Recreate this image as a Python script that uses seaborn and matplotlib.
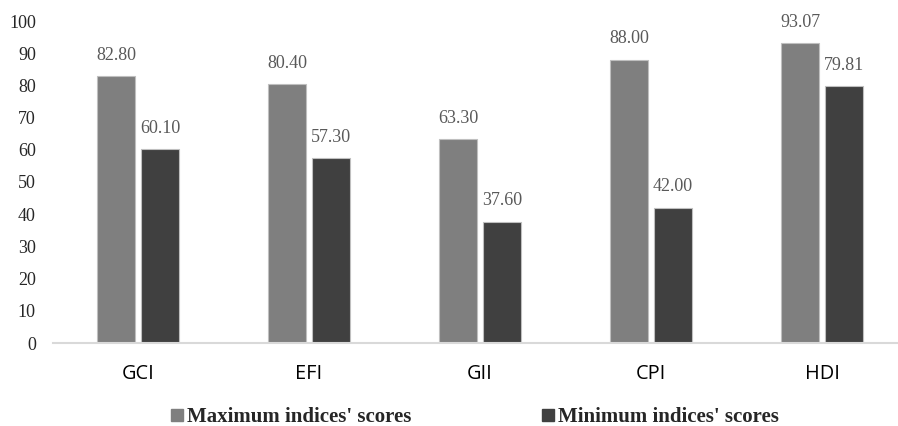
import pandas as pd
import matplotlib
matplotlib.use('Agg')
import matplotlib.pyplot as plt
import seaborn as sns
from matplotlib.lines import Line2D

# values
indices = ['GCI', 'EFI', 'GII', 'CPI', 'HDI']
max_scores = [82.80, 80.40, 63.30, 88.00, 93.07]
min_scores = [60.10, 57.30, 37.60, 42.00, 79.81]
series = ["Maximum indices' scores", "Minimum indices' scores"]
colors = ['#7f7f7f', '#404040']

df = pd.DataFrame({
    'index': indices * 2,
    'score': max_scores + min_scores,
    'series': [series[0]] * len(indices) + [series[1]] * len(indices),
})

sns.set_style('white')
plt.rcParams['font.family'] = ['Liberation Serif', 'DejaVu Serif']

fig = plt.figure(figsize=(8.98, 4.26), dpi=100)
ax = fig.add_axes([52.5 / 898, 1 - 343 / 426, 855 / 898, 322 / 426])

sns.barplot(data=df, x='index', y='score', hue='series', palette=colors,
            width=0.515, gap=0.13, edgecolor='#bfbfbf', linewidth=0.8,
            legend=False, ax=ax)

for cont in ax.containers:
    ax.bar_label(cont, fmt='%.2f', padding=9, color='#595959', fontsize=13)

ax.set_ylim(0, 100)
ax.set_yticks(range(0, 101, 10))
ax.tick_params(axis='y', length=0, labelsize=13, pad=12)
ax.tick_params(axis='x', length=0, pad=15)
for lbl in ax.get_xticklabels():
    lbl.set_family(['Open Sans', 'DejaVu Sans'])
    lbl.set_fontsize(14.3)
    lbl.set_color('black')
ax.set_xlabel('')
ax.set_ylabel('')
for s in ['top', 'right', 'left']:
    ax.spines[s].set_visible(False)
ax.spines['bottom'].set_color('#d9d9d9')
ax.spines['bottom'].set_linewidth(1.5)
ax.grid(False)

handles = [Line2D([], [], marker='s', linestyle='', markersize=8,
                  markerfacecolor=c, markeredgecolor=c) for c in colors]
fig.legend(handles, series, loc='center', bbox_to_anchor=(475 / 898, 1 - 417 / 426),
           ncol=2, frameon=False, columnspacing=6.3, handletextpad=0.2,
           handlelength=0.55, borderpad=0, borderaxespad=0,
           prop={'family': 'Liberation Serif', 'weight': 'bold', 'size': 15})

fig.savefig('out.png', dpi=100)
